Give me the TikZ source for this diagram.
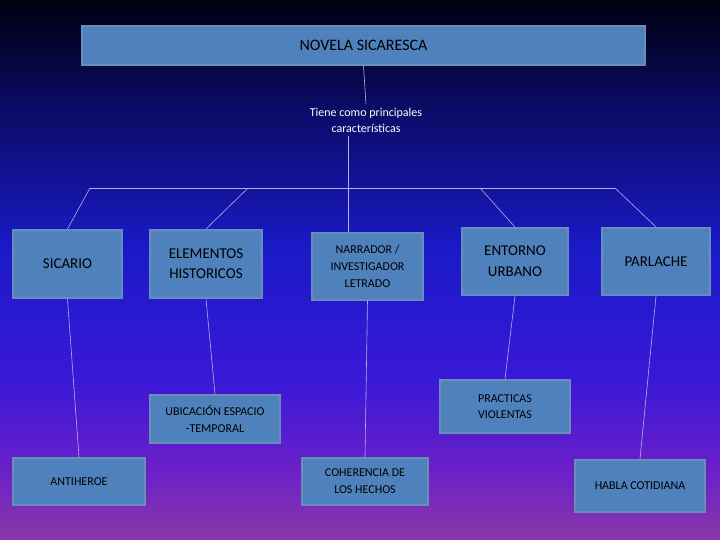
\documentclass[tikz,border=0pt]{standalone}
\usepackage{fontspec}
\setmainfont{Carlito}
\definecolor{boxfill}{HTML}{4F81BD}
\definecolor{boxline}{HTML}{6A8CBA}
\definecolor{lineclr}{HTML}{A8B8E0}
\definecolor{c0}{HTML}{000010}
\definecolor{c1}{HTML}{0A0A60}
\definecolor{c2}{HTML}{1A1AC8}
\definecolor{c3}{HTML}{3A18D8}
\definecolor{c4}{HTML}{6A20C8}
\definecolor{c5}{HTML}{8A38A8}
\pgfdeclareverticalshading{bgshade}{100bp}{color(0bp)=(c5); color(25bp)=(c5); color(31.5bp)=(c4); color(39.8bp)=(c3); color(51.9bp)=(c2); color(65.7bp)=(c1); color(75bp)=(c0); color(100bp)=(c0)}
\begin{document}
\begin{tikzpicture}[x=1pt,y=-1pt,
  box/.style={draw=boxline,line width=2pt,fill=boxfill,text=black,align=center,inner sep=0pt},
  conn/.style={draw=lineclr,line width=0.6pt}]
\shade[shading=bgshade] (0,0) rectangle (720,540);
\useasboundingbox (0,0) rectangle (720,540);
\node[box,minimum width=563pt,minimum height=39pt,font=\fontsize{16}{18}\selectfont] (t) at (363.5,45.5) {NOVELA SICARESCA};
\node[align=center,text=white,font=\fontsize{12}{16}\selectfont] (c) at (366,120) {Tiene como principales\\características};
\coordinate (hl) at (90,188); \coordinate (hr) at (615,188);
\coordinate (h2) at (248,188); \coordinate (h3) at (348,188); \coordinate (h4) at (480,188);
\node[box,minimum width=109pt,minimum height=68pt,font=\fontsize{15}{18}\selectfont] (s) at (67.5,264) {SICARIO};
\node[box,minimum width=112pt,minimum height=68pt,font=\fontsize{15}{20}\selectfont] (e) at (206,264) {ELEMENTOS\\HISTORICOS};
\node[box,minimum width=111pt,minimum height=67pt,font=\fontsize{12}{17}\selectfont] (n) at (367.5,266.5) {NARRADOR /\\INVESTIGADOR\\LETRADO};
\node[box,minimum width=106pt,minimum height=67pt,font=\fontsize{15}{21}\selectfont] (u) at (515,261.5) {ENTORNO\\URBANO};
\node[box,minimum width=108pt,minimum height=67pt,font=\fontsize{15}{18}\selectfont] (p) at (656,261.5) {PARLACHE};
\node[box,minimum width=130pt,minimum height=48pt,font=\fontsize{12}{17}\selectfont] (ub) at (215,419) {UBICACIÓN ESPACIO\\-TEMPORAL};
\node[box,minimum width=130pt,minimum height=53pt,font=\fontsize{12}{16}\selectfont] (pv) at (505,406.5) {PRACTICAS\\VIOLENTAS};
\node[box,minimum width=132pt,minimum height=47pt,font=\fontsize{12}{15}\selectfont] (a) at (79,481.5) {ANTIHEROE};
\node[box,minimum width=126pt,minimum height=47pt,font=\fontsize{12}{17}\selectfont] (co) at (365,481.5) {COHERENCIA DE\\LOS HECHOS};
\node[box,minimum width=130pt,minimum height=52pt,font=\fontsize{12}{15}\selectfont] (hc) at (640,486) {HABLA COTIDIANA};
\draw[conn] (t.south) -- (c.north);
\draw[conn] (c.south -| h3) -- (h3);
\draw[conn] (hl) -- (hr);
\draw[conn] (hl) -- (s.north);
\draw[conn] (h2) -- (e.north);
\draw[conn] (h3) -- (n.north -| h3);
\draw[conn] (h4) -- (u.north);
\draw[conn] (hr) -- (p.north);
\draw[conn] (s.south) -- (a.north);
\draw[conn] (e.south) -- (ub.north);
\draw[conn] (n.south) -- (co.north);
\draw[conn] (u.south) -- (pv.north);
\draw[conn] (p.south) -- (hc.north);
\end{tikzpicture}
\end{document}
